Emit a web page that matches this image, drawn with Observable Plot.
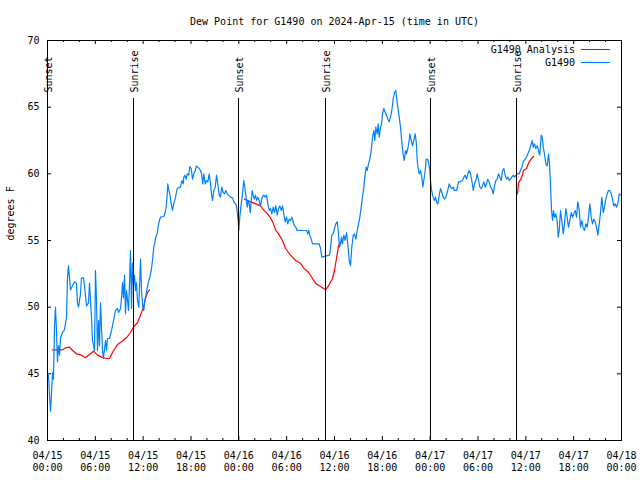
<!DOCTYPE html>
<html><head><meta charset="utf-8">
<script src="https://cdn.jsdelivr.net/npm/d3@7"></script>
<script src="https://cdn.jsdelivr.net/npm/@observablehq/plot@0.6"></script>
<style>html,body{margin:0;padding:0;background:#fff}</style>
</head><body><div id="chart"></div>
<script>
// ---- data (hours since 2024-04-15 00:00 UTC) ----
const startUTC = Date.UTC(2024, 3, 15);
const titleText = "Dew Point for G1490 on 2024-Apr-15 (time in UTC)";
const yLabel = "degrees F";
const seriesNames = ["G1490 Analysis", "G1490"];
const seriesColors = ["#ff0000", "#0080ff"];

const obsHours = [
 0.13,0.25,0.38,0.50,0.63,0.75,0.88,1.00,1.13,1.25,
 1.38,1.51,1.63,1.88,2.13,2.38,2.51,2.63,2.76,2.89,
 3.14,3.39,3.64,3.76,3.89,4.14,4.26,4.52,4.64,4.89,
 5.14,5.27,5.52,5.64,5.90,6.02,6.15,6.27,6.40,6.52,
 6.65,6.90,7.02,7.28,7.40,7.53,7.78,8.03,8.28,8.53,
 8.78,8.91,9.16,9.28,9.41,9.53,9.66,9.78,9.91,10.04,
 10.16,10.29,10.41,10.54,10.66,10.79,10.91,11.04,11.16,11.29,
 11.45,11.67,11.79,11.95,12.08,12.21,12.38,12.63,12.83,13.01,
 13.17,13.33,13.46,13.58,13.76,13.89,14.05,14.17,14.59,14.76,
 14.89,15.02,15.09,15.22,15.34,15.52,15.68,15.84,16.06,16.27,
 16.43,16.68,16.85,17.02,17.10,17.22,17.40,17.52,17.72,17.85,
 18.03,18.19,18.35,18.53,18.69,18.85,19.03,19.19,19.32,19.48,
 19.61,19.78,19.94,20.11,20.28,20.45,20.57,20.70,20.86,21.04,
 21.20,21.36,21.54,21.70,21.86,22.04,22.20,22.37,22.54,22.70,
 22.96,23.21,23.37,23.58,23.71,23.80,23.92,24.00,
 24.12,24.30,24.46,24.62,24.80,24.93,25.05,25.18,25.30,25.43,
 25.55,25.68,25.80,25.93,26.09,26.22,26.38,26.56,26.72,26.93,
 27.13,27.31,27.47,27.64,27.81,27.97,28.14,28.31,28.47,28.64,
 28.81,28.98,29.14,29.32,29.48,29.64,29.82,29.98,30.14,30.32,
 30.48,30.65,30.82,30.98,31.15,31.32,32.49,32.65,32.78,32.90,
 33.08,33.24,34.08,34.25,34.41,35.37,35.50,35.66,35.84,36.00,
 36.16,36.34,36.47,36.63,36.75,36.88,37.00,37.17,37.34,37.51,
 37.67,37.85,38.01,38.17,38.35,38.51,38.67,38.85,39.01,39.18,
 39.35,39.51,39.68,39.80,39.98,40.10,40.27,40.43,40.61,40.77,
 40.93,41.06,41.18,41.36,41.48,41.61,41.77,41.90,42.02,42.19,
 42.36,42.52,42.69,42.86,43.03,43.19,43.36,43.53,43.69,43.78,
 43.94,44.12,44.28,44.44,44.62,44.74,44.91,45.03,45.20,45.37,
 45.45,45.62,45.79,45.95,46.12,46.25,46.38,46.50,46.63,46.79,
 46.95,47.08,47.20,47.38,47.50,47.67,47.83,47.96,48.04,48.13,
 48.26,48.38,48.55,48.67,48.80,48.96,49.14,49.30,49.46,49.64,
 49.80,49.96,50.14,50.39,50.55,50.72,50.89,51.05,51.31,51.56,
 51.81,52.06,52.22,52.40,52.56,52.72,52.90,53.06,53.22,53.40,
 53.56,53.73,53.90,54.07,54.23,54.40,54.57,54.73,54.91,55.07,
 55.23,55.41,55.57,55.73,55.91,56.07,56.24,56.41,56.57,56.74,
 56.91,57.08,57.24,57.41,57.58,57.74,57.92,58.08,58.24,58.42,
 58.58,58.75,58.92,59.17,59.33,59.50,59.67,59.84,60.09,60.25,
 60.43,60.59,60.80,60.93,61.09,61.25,61.43,61.59,61.75,61.93,
 62.06,62.18,62.34,62.51,62.68,62.85,62.97,63.10,63.22,63.35,
 63.47,63.60,63.76,63.94,64.06,64.19,64.35,64.51,64.69,64.85,
 65.02,65.19,65.35,65.52,65.69,65.86,66.02,66.20,66.36,66.52,
 66.70,66.86,67.02,67.20,67.36,67.53,67.70,67.86,68.03,68.20,
 68.36,68.53,68.70,68.87,69.03,69.21,69.37,69.53,69.71,69.87,
 70.03,70.21,70.37,70.54,70.71,70.87,71.04,71.21,71.38,71.54,
 71.71,71.88
];
const obsDew = [
 44.9,43.4,42.2,43.5,45.1,44.6,48.6,50.0,48.2,45.9,
 47.1,46.4,47.7,48.1,48.3,49.2,52.2,53.1,52.2,51.3,
 51.6,51.9,51.8,50.3,50.0,51.0,52.2,52.2,51.6,50.1,
 50.3,51.8,49.2,47.5,46.75,52.75,50.5,46.75,49.0,47.1,
 50.35,46.75,46.15,47.5,46.75,47.65,47.65,48.25,49.0,49.75,
 49.9,49.6,49.9,50.65,51.85,50.7,52.4,49.5,51.25,50.5,
 49.75,51.8,54.25,49.9,53.3,51.6,52.4,51.25,51.85,50.5,
 50.0,53.6,51.25,50.0,49.75,50.5,51.0,51.8,52.25,52.75,
 53.5,54.5,54.8,55.25,55.5,56.1,56.5,56.75,56.8,57.1,
 57.5,58.5,59.25,58.75,58.5,57.75,57.25,57.75,58.25,58.9,
 58.95,59.0,59.5,59.25,59.75,59.9,59.6,60.0,59.9,60.55,
 60.4,59.6,60.0,60.25,60.6,60.5,60.4,60.25,60.0,59.25,
 60.0,59.25,59.5,59.4,60.0,59.25,58.5,58.0,58.75,59.0,
 59.9,59.25,58.4,58.25,59.0,58.6,58.5,58.75,58.5,58.4,
 58.25,58.2,57.9,57.75,57.6,57.1,56.5,55.75,
 56.75,57.75,58.5,59.5,58.75,58.1,57.5,58.0,57.75,57.1,
 57.9,58.75,58.4,58.1,58.4,58.0,58.25,58.0,57.6,58.25,
 58.4,58.25,58.4,57.75,57.25,57.4,57.0,57.5,57.1,57.6,
 56.9,57.4,57.6,57.25,57.6,57.0,56.4,56.75,56.25,56.6,
 56.5,56.75,56.4,56.1,56.0,55.75,55.75,55.5,55.75,55.4,
 55.1,54.75,54.75,54.4,53.75,53.9,54.4,55.4,55.5,55.9,
 56.25,56.4,55.75,54.5,54.75,55.25,54.75,55.4,55.0,55.6,
 54.75,53.5,53.1,54.5,55.4,55.5,55.1,55.75,56.25,56.75,
 57.5,58.25,59.0,59.75,60.5,60.25,60.75,61.1,61.75,62.75,
 63.25,62.5,63.5,63.0,63.75,62.75,63.5,63.75,64.5,64.9,
 64.6,64.4,64.1,63.9,64.25,64.75,65.6,66.1,66.25,65.75,
 65.0,64.25,63.5,62.4,61.4,61.0,61.75,61.5,61.9,62.5,
 63.0,62.5,62.1,62.5,63.0,62.4,61.0,60.4,60.0,60.25,
 59.75,59.0,59.5,60.25,61.1,61.1,60.75,60.25,59.5,59.0,
 58.5,58.25,58.0,58.25,57.9,57.75,58.4,58.9,58.6,58.25,
 58.1,58.25,58.6,59.25,59.0,58.9,59.0,58.75,58.75,59.4,
 59.4,59.5,59.75,59.9,59.6,60.0,60.25,60.0,59.5,58.75,
 59.25,59.5,60.0,59.5,59.0,58.9,59.1,59.4,59.0,59.25,
 59.6,59.4,59.0,58.9,58.5,59.1,59.5,59.6,60.0,59.75,
 59.5,60.25,60.4,59.9,59.6,59.75,59.5,59.6,59.75,59.9,
 59.75,59.9,60.0,60.0,60.25,60.5,60.9,61.05,61.25,61.5,
 61.75,62.05,62.5,62.0,62.25,61.9,62.1,61.75,61.4,62.9,
 62.75,62.0,61.5,60.75,60.6,61.5,60.75,59.1,57.25,56.5,
 57.25,56.75,57.0,56.4,55.25,55.75,57.25,56.5,55.5,56.25,
 57.4,56.75,56.0,56.5,57.1,56.75,57.0,57.25,56.75,57.9,
 57.25,56.0,56.5,55.9,55.75,56.25,56.0,56.75,57.75,56.75,
 56.25,56.6,56.4,56.0,55.4,56.25,57.1,58.25,57.1,57.5,
 58.1,58.5,58.75,58.75,58.5,58.1,57.6,57.75,57.5,57.75,
 58.5,58.4
];

// Analysis series; null marks a gap in the record
const anaHours = [
 0.63,1.88,2.38,2.76,3.14,3.64,4.26,4.77,5.27,5.77,
 6.27,7.02,7.53,7.78,8.15,8.78,9.28,9.91,10.41,10.79,
 11.29,11.67,12.04,12.29,12.54,12.80,
 18.0,
 24.71,25.46,26.09,26.72,27.10,27.60,27.97,28.35,28.60,28.98,
 29.48,29.85,30.48,31.11,31.74,32.11,32.74,33.24,33.62,34.25,
 34.88,35.25,35.75,36.00,36.25,36.50,36.75,
 45.0,
 58.96,59.08,59.46,59.71,60.09,60.34,60.71,60.96
];
const anaDew = [
 46.8,46.8,46.97,47.0,46.75,46.5,46.4,46.2,46.45,46.7,
 46.4,46.2,46.15,46.15,46.6,47.2,47.4,47.7,48.1,48.5,
 48.85,49.4,50.0,50.65,51.1,51.3,
 null,
 58.1,57.9,57.75,57.6,57.3,57.0,56.7,56.25,55.8,55.5,
 55.0,54.4,53.9,53.5,53.3,52.95,52.6,52.15,51.8,51.55,
 51.3,51.6,52.15,52.75,53.65,54.6,54.85,
 null,
 58.5,59.3,59.7,60.25,60.4,60.8,61.15,61.3
];

const eventHours = [0.0, 10.79, 23.96, 34.87, 48.04, 58.83];
const eventLabels = ["Sunset", "Sunrise", "Sunset", "Sunrise", "Sunset", "Sunrise"];

const xMajorHours = [0, 6, 12, 18, 24, 30, 36, 42, 48, 54, 60, 66, 72];
const xMinorHours = [2, 4, 8, 10, 14, 16, 20, 22, 26, 28, 32, 34, 38, 40, 44, 46, 50, 52, 56, 58, 62, 64, 68, 70];
const yTicks = [40, 45, 50, 55, 60, 65, 70];

// ---- build ----
const FONT = "DejaVu Sans Mono";
const toDate = h => new Date(startUTC + h * 3600e3);
const obs = obsHours.map((h, i) => ({date: toDate(h), v: obsDew[i]}));
const ana = anaHours.map((h, i) => ({date: toDate(h), v: anaDew[i]}));
const events = eventHours.map((h, i) => ({date: toDate(h), label: eventLabels[i]}));
const majors = xMajorHours.map(toDate);
const minors = xMinorHours.map(toDate);
const fmt = d3.utcFormat("%m/%d\n%H:%M");

const W = 640, H = 480, ML = 47, MR = 19, MT = 40, MB = 40;
const FW = W - ML - MR, FH = H - MT - MB;

function legendMark(index, scales, values, dims) {
  const g = d3.create("svg:g").attr("font-family", FONT).attr("font-size", 10);
  const right = dims.width - dims.marginRight;
  seriesNames.forEach((name, i) => {
    const y = dims.marginTop + 9.5 + i * 13;
    g.append("text").attr("x", right - 46).attr("y", y).attr("dy", "0.32em")
      .attr("text-anchor", "end").attr("fill", "black").text(name);
    g.append("line").attr("x1", right - 40).attr("x2", right - 11)
      .attr("y1", y).attr("y2", y).attr("stroke", seriesColors[i]).attr("stroke-width", 1);
  });
  return g.node();
}

const chart = Plot.plot({
  width: W, height: H,
  marginLeft: ML, marginRight: MR, marginTop: MT, marginBottom: MB,
  x: {type: "utc", domain: [toDate(0), toDate(72)], axis: null},
  y: {domain: [40, 70], axis: null},
  style: {fontFamily: FONT, fontSize: "10px", background: "white", color: "black"},
  marks: [
    // ticks (inward, mirrored)
    Plot.ruleX(majors, {x: d => d, insetTop: FH - 4, stroke: "black"}),
    Plot.ruleX(majors, {x: d => d, insetBottom: FH - 4, stroke: "black"}),
    Plot.ruleX(minors, {x: d => d, insetTop: FH - 2, stroke: "black"}),
    Plot.ruleX(minors, {x: d => d, insetBottom: FH - 2, stroke: "black"}),
    Plot.ruleY(yTicks, {y: d => d, insetRight: FW - 4, stroke: "black"}),
    Plot.ruleY(yTicks, {y: d => d, insetLeft: FW - 4, stroke: "black"}),
    // tick labels
    Plot.text(yTicks, {y: d => d, frameAnchor: "left", dx: -8, textAnchor: "end", text: d => String(d), fill: "black"}),
    Plot.text(majors, {x: d => d, frameAnchor: "bottom", dy: 10, lineAnchor: "top", lineHeight: 1.22, text: d => fmt(d), fill: "black"}),
    // data
    Plot.line(ana, {x: "date", y: "v", stroke: seriesColors[0], strokeWidth: 1.2}),
    Plot.line(obs, {x: "date", y: "v", stroke: seriesColors[1], strokeWidth: 1.2}),
    // sunrise / sunset
    Plot.ruleX(events, {x: "date", insetTop: 58, stroke: "black"}),
    Plot.text(events, {x: "date", frameAnchor: "top", dy: 52, dx: 1, rotate: -90, textAnchor: "start", lineAnchor: "middle", text: "label", fill: "black"}),
    // title and y label
    Plot.text([titleText], {frameAnchor: "top", dy: -19, lineAnchor: "middle", text: d => d, fill: "black"}),
    Plot.text([yLabel], {frameAnchor: "left", dx: -37, rotate: -90, lineAnchor: "middle", text: d => d, fill: "black"}),
    legendMark,
    Plot.frame({stroke: "black"})
  ]
});
document.getElementById("chart").appendChild(chart);
</script>
</body></html>
